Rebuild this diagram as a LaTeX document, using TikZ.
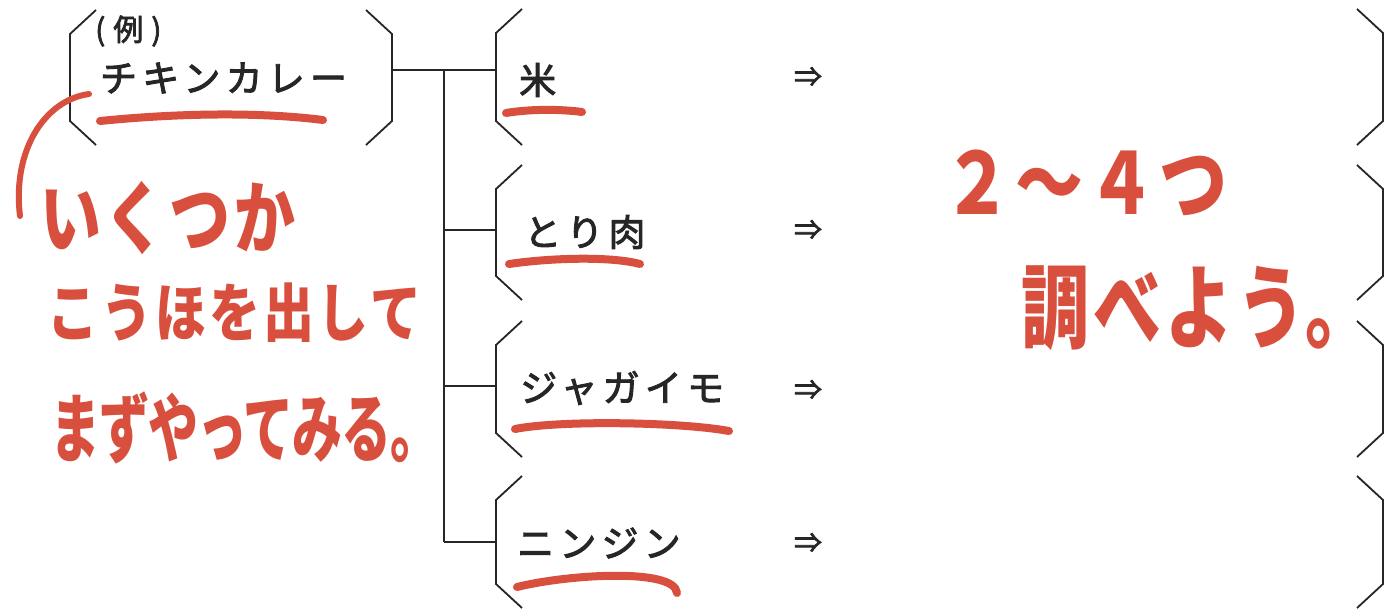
\documentclass[tikz,border=0pt]{standalone}
\usepackage{fontspec}
\usepackage{graphicx}
\newfontfamily\jp{Noto Sans CJK JP}[FakeBold=2.5]
\newfontfamily\jpsp{Noto Sans CJK JP}[LetterSpace=14,FakeBold=2.5]
\newfontfamily\hand{Noto Sans CJK JP}[LetterSpace=6]
\newfontfamily\handn{Noto Sans CJK JP}[LetterSpace=-2]
\definecolor{ink}{HTML}{262626}
\definecolor{pen}{HTML}{D84F3E}
\newcommand\brackbox[1]{%
  \draw[ln] ([xshift=26pt]#1.north west) -- ([yshift=-24pt]#1.north west)
     -- ([yshift=24pt]#1.south west) -- ([xshift=26pt]#1.south west);
  \draw[ln] ([xshift=-26pt]#1.north east) -- ([yshift=-24pt]#1.north east)
     -- ([yshift=24pt]#1.south east) -- ([xshift=-26pt]#1.south east);}
\tikzset{
  ln/.style={draw=ink,line width=1.8pt,line join=miter},
  frame/.style={inner sep=0pt,outer sep=0pt,minimum width=#1},
  lbl/.style={anchor=west,inner sep=0pt,text=ink,font=\jpsp\fontsize{37}{40}\selectfont},
  arr/.style={inner sep=0pt,text=ink,font=\jp\fontsize{28}{30}\selectfont},
  hw/.style={anchor=west,inner sep=0pt,text=pen},
  ul/.style={draw=pen,line width=8pt,line cap=round},
}
\begin{document}
\begin{tikzpicture}[x=1pt,y=-1pt]
\fill[white] (0,0) rectangle (1393,610);
\useasboundingbox (0,0) rectangle (1393,610);
% frames
\node[frame=322pt,minimum height=135pt] (ex) at (231,77.5) {};
\node[frame=887pt,minimum height=136pt] (r1) at (939.5,77) {};
\node[frame=887pt,minimum height=135pt] (r2) at (939.5,232.5) {};
\node[frame=887pt,minimum height=136pt] (r3) at (939.5,389) {};
\node[frame=887pt,minimum height=132pt] (r4) at (939.5,542) {};
\brackbox{ex}\brackbox{r1}\brackbox{r2}\brackbox{r3}\brackbox{r4}
% tree
\coordinate (j1) at (444,70);
\coordinate (j2) at (444,230);
\coordinate (j3) at (444,386);
\coordinate (j4) at (444,542);
\draw[ln] (ex.east |- j1) -- (r1.west |- j1);
\draw[ln] (j1) -- (j4);
\draw[ln] (j2) -- (r2.west |- j2);
\draw[ln] (j3) -- (r3.west |- j3);
\draw[ln] (j4) -- (r4.west |- j4);
% texts
\node[anchor=west,inner sep=0pt,text=ink,font=\jp\fontsize{30}{32}\selectfont] (tag) at (95,31) {(\kern8pt 例\kern8pt)};
\node[lbl] (t0) at (100,78) {チキンカレー};
\node[lbl] (t1) at (519,80) {米};
\node[lbl] (t2) at (524,232) {とり肉};
\node[lbl] (t3) at (520,388) {ジャガイモ};
\node[lbl] (t4) at (517,543) {ニンジン};
\node[arr] (a1) at (808,77) {⇒};
\node[arr] (a2) at (808,230) {⇒};
\node[arr] (a3) at (808,390) {⇒};
\node[arr] (a4) at (808,543) {⇒};
% red underlines
\draw[ul] (100,121) .. controls (180,113) and (260,112) .. (323,120);
\draw[ul] (506,113) .. controls (530,109) and (560,109) .. (582,112);
\draw[ul] (509,264) .. controls (550,258) and (610,256) .. (640,264);
\draw[ul] (515,429) .. controls (560,420) and (680,422) .. (729,431);
\draw[ul] (517,587) .. controls (570,574) and (675,568) .. (677,593);
% handwriting notes
\node[hw,font=\hand\bfseries\fontsize{61}{64}\selectfont] (n1) at (40,218) {\scalebox{1}[1.3]{いくつか}};
\node[hw,font=\hand\bfseries\fontsize{51}{56}\selectfont] (n2) at (47,313) {\scalebox{1}[1.25]{こうほを出して}};
\node[hw,font=\handn\bfseries\fontsize{50}{56}\selectfont] (n3) at (50,428) {\scalebox{1}[1.5]{まずやってみる。}};
\node[hw,font=\hand\bfseries\fontsize{68}{72}\selectfont] (m1) at (943,183) {\scalebox{1}[1.25]{２〜４つ}};
\node[hw,font=\hand\bfseries\fontsize{68}{72}\selectfont] (m2) at (1021,308) {\scalebox{1}[1.35]{調べよう。}};
% red pointer curve
\coordinate (cs) at (89,94);
\coordinate (ce) at (20,216);
\draw[draw=pen,line width=6pt,line cap=round] (cs) .. controls (45,100) and (12,150) .. (ce);
\end{tikzpicture}
\end{document}
